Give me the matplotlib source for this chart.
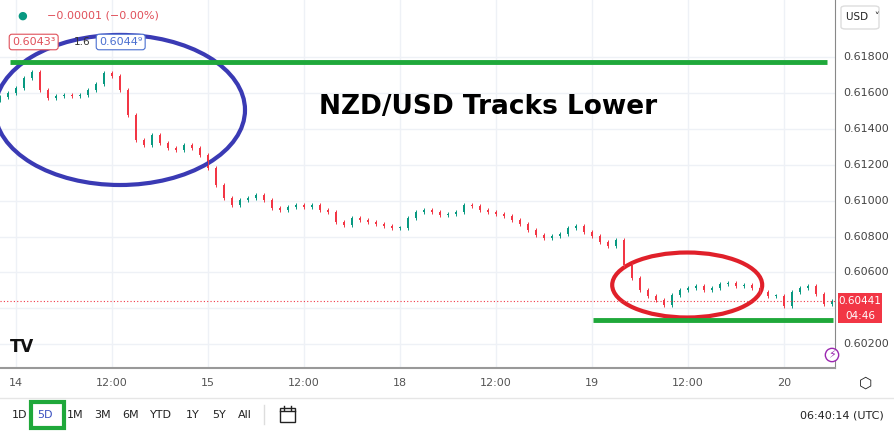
import matplotlib
matplotlib.use("Agg")
import matplotlib.pyplot as plt
from matplotlib.patches import Ellipse, Rectangle, FancyBboxPatch

closes = [0.61577,0.61600,0.61627,0.61683,0.61716,0.61616,0.61572,0.61583,0.61588,0.61583,
0.61588,0.61616,0.61650,0.61711,0.61694,0.61616,0.61477,0.61338,0.61310,0.61366,
0.61321,0.61293,0.61282,0.61310,0.61293,0.61254,0.61182,0.61087,0.61015,0.60976,
0.61004,0.61015,0.61031,0.61004,0.60959,0.60948,0.60965,0.60976,0.60965,0.60976,
0.60948,0.60937,0.60881,0.60864,0.60903,0.60892,0.60881,0.60870,0.60859,0.60848,
0.60848,0.60903,0.60937,0.60948,0.60937,0.60920,0.60926,0.60937,0.60976,0.60970,
0.60948,0.60937,0.60926,0.60914,0.60892,0.60870,0.60836,0.60809,0.60792,0.60803,
0.60814,0.60848,0.60859,0.60825,0.60803,0.60770,0.60747,0.60781,0.60641,0.60569,
0.60502,0.60469,0.60447,0.60419,0.60474,0.60502,0.60513,0.60525,0.60502,0.60513,
0.60536,0.60541,0.60525,0.60530,0.60513,0.60491,0.60469,0.60469,0.60413,0.60491,
0.60513,0.60525,0.60480,0.60424,0.60441]
open0 = 0.61560
price_ticks = [0.602,0.604,0.606,0.608,0.610,0.612,0.614,0.616,0.618]
price_labels_shown = [0.602,0.606,0.608,0.610,0.612,0.614,0.616,0.618]
time_pos = [2,14,26,38,50,62,74,86,98]
time_labels = ["14","12:00","15","12:00","18","12:00","19","12:00","20"]
resistance = 0.61772
support = 0.60335
last_price = 0.60441

W, H = 894, 432
fig = plt.figure(figsize=(W/100, H/100), dpi=100)
ax = fig.add_axes([0, 1-368/H, 835/W, 368/H])
ax.set_xlim(0, 104.375)
ax.set_ylim(0.600677, 0.621175)
for s in ax.spines.values():
    s.set_visible(False)
ax.spines['right'].set_visible(True); ax.spines['right'].set_color('#888')
ax.spines['bottom'].set_visible(True); ax.spines['bottom'].set_color('#999'); ax.spines['bottom'].set_linewidth(1.5)
ax.set_xticks(time_pos); ax.set_yticks(price_ticks)
ax.tick_params(length=0, labelleft=False, labelbottom=False)
ax.grid(True, color='#eef1f6', lw=1)
ax.set_axisbelow(True)

opens = [open0] + closes[:-1]
for i, (o, c) in enumerate(zip(opens, closes)):
    col = '#089981' if c >= o else '#f23645'
    lo, hi = min(o, c), max(o, c)
    ax.vlines(i, lo - 0.00010, hi + 0.00010, color=col, lw=0.7)
    ax.add_patch(Rectangle((i-0.13, lo), 0.26, max(hi-lo, 0.00003), color=col, lw=0))

ax.axhline(last_price, color='#f23645', lw=0.8, ls=(0, (1, 2)))
ax.plot([1.25, 103.4], [resistance]*2, color='#1fa83a', lw=3.5, solid_capstyle='butt')
ax.plot([74.1, 104.1], [support]*2, color='#1fa83a', lw=3.5, solid_capstyle='butt')
ax.add_patch(Ellipse((15, 0.61505), 31.25, 0.00836, fill=False, ec='#3a3ab4', lw=3))
ax.add_patch(Ellipse((85.9, 0.60530), 18.75, 0.00362, fill=False, ec='#e0202a', lw=3))
ax.text(61, 0.6152, "NZD/USD Tracks Lower", fontsize=19, fontweight='bold', ha='center', va='center', color='black')

# price labels
for p in price_labels_shown:
    yp = (p - 0.600677)/(0.621175-0.600677)
    fy = 1-368/H + yp*368/H
    fig.text(843/W, fy, f"{p:.5f}", fontsize=8, color='#444', va='center')
fig.patches.append(Rectangle((838/W, 1-323/H), 44/W, 30/H, transform=fig.transFigure, color='#f23645', lw=0))
fig.text(860/W, 1-301/H, "0.60441", fontsize=7.5, color='white', va='center', ha='center')
fig.text(860/W, 1-316/H, "04:46", fontsize=7.5, color='white', va='center', ha='center')
fig.patches.append(FancyBboxPatch((841/W, 1-29/H), 38/W, 23/H, boxstyle='round,pad=0,rounding_size=0.005', transform=fig.transFigure, fc='white', ec='#ddd'))
fig.text(846/W, 1-17/H, "USD  ˅", fontsize=7.5, color='#222', va='center')

# time labels
for t, l in zip(time_pos, time_labels):
    fig.text(8*t/W, 1-383/H, l, fontsize=8, color='#555', ha='center', va='center')
fig.text(866/W, 1-383/H, "⬡", fontsize=11, color='#222', ha='center', va='center')
fig.lines.append(plt.Line2D([0, 1], [1-398/H]*2, transform=fig.transFigure, color='#e6e6e6', lw=1))

# header
fig.text(22/W, 1-16/H, "●", fontsize=8, color='#089981', ha='center', va='center')
fig.text(47/W, 1-16/H, "−0.00001 (−0.00%)", fontsize=8, color='#e0505a', va='center')
fig.text(12/W, 1-42/H, "0.6043³", fontsize=8, color='#e0505a', va='center',
         bbox=dict(boxstyle='round,pad=0.25', fc='white', ec='#e0505a', lw=0.8))
fig.text(74/W, 1-42/H, "1.6", fontsize=7.5, color='#333', va='center')
fig.text(99/W, 1-42/H, "0.6044⁹", fontsize=8, color='#4a6fd0', va='center',
         bbox=dict(boxstyle='round,pad=0.25', fc='white', ec='#4a6fd0', lw=0.8))
fig.text(10/W, 1-347/H, "TV", fontsize=12, fontweight='black', color='#111', va='center')
fig.text(832/W, 1-355/H, "⚡", fontsize=8, color='#9b27b0', ha='center', va='center',
         bbox=dict(boxstyle='circle,pad=0.15', fc='white', ec='#9b27b0', lw=1))

# bottom toolbar
xs = [12, 37, 67, 94, 122, 150, 186, 212, 238]
labs = ["1D", "5D", "1M", "3M", "6M", "YTD", "1Y", "5Y", "All"]
for x, l in zip(xs, labs):
    fig.text(x/W, 1-415/H, l, fontsize=8, color='#3a50c0' if l == "5D" else '#222', va='center')
fig.patches.append(Rectangle((31/W, 1-428/H), 33/W, 26/H, transform=fig.transFigure, fill=False, ec='#1fa83a', lw=3))
fig.lines.append(plt.Line2D([264/W]*2, [1-424/H, 1-405/H], transform=fig.transFigure, color='#ddd', lw=1))
# calendar icon
fig.patches.append(Rectangle((280/W, 1-422/H), 15/W, 14/H, transform=fig.transFigure, fill=False, ec='#222', lw=1))
fig.lines.append(plt.Line2D([280/W, 295/W], [1-411/H]*2, transform=fig.transFigure, color='#222', lw=1))
for xx in (284, 291):
    fig.lines.append(plt.Line2D([xx/W]*2, [1-410/H, 1-406/H], transform=fig.transFigure, color='#222', lw=1))
fig.text(884/W, 1-415/H, "06:40:14 (UTC)", fontsize=8, color='#222', ha='right', va='center')

fig.savefig("out.png", dpi=100)
